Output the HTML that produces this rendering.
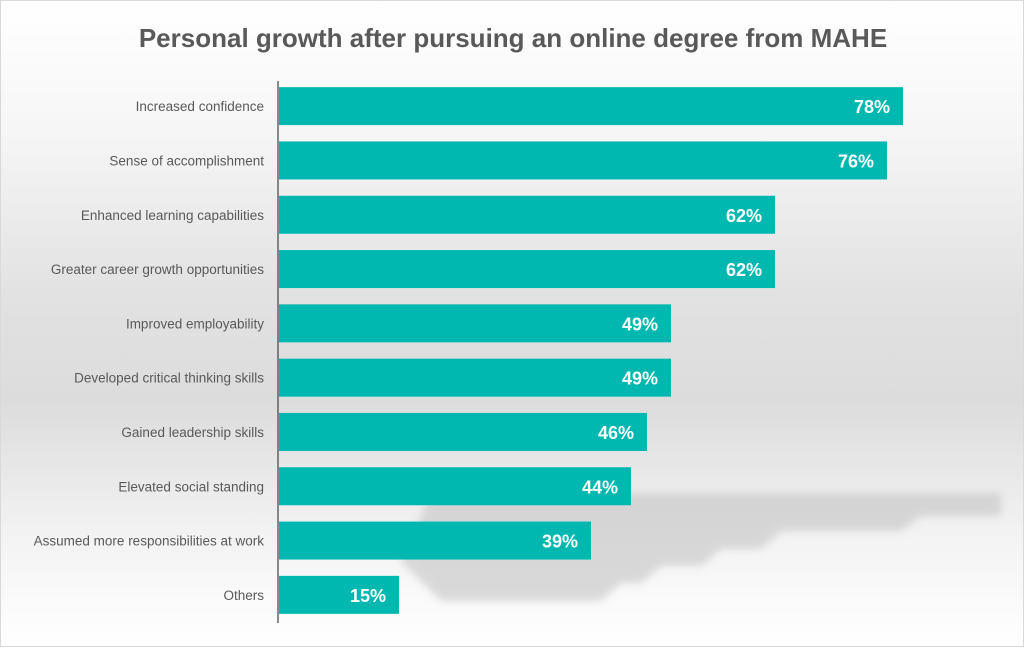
<!DOCTYPE html>
<html><head><meta charset="utf-8"><style>
html,body{margin:0;padding:0}
body{width:1024px;height:647px;overflow:hidden;font-family:"Liberation Sans",sans-serif}
#wrap{position:absolute;left:0;top:0;width:1022px;height:645px;border:1px solid #d9d9d9;
background:linear-gradient(to bottom,#ffffff 0%,#f6f6f6 20%,#e2e2e2 45%,#dcdcdc 62%,#f2f2f2 82%,#ffffff 100%)}
</style></head><body>
<div id="wrap">
<svg id="chart" width="1022" height="645" xmlns="http://www.w3.org/2000/svg">
<defs><filter id="bl" x="-5%" y="-20%" width="110%" height="140%"><feGaussianBlur stdDeviation="4"/></filter></defs>
<g filter="url(#bl)" fill="#c4c4c4" opacity="0.6">
<polygon points="430,492 1000,492 1000,515 920,515 900,530 780,530 760,548 720,548 700,565 660,565 640,582 620,582 600,600 440,600 400,560"/>
</g>
<text x="512" y="46" text-anchor="middle" font-size="26" font-weight="bold" fill="#595959">Personal growth after pursuing an online degree from MAHE</text>
<g id="bars"></g>
<line x1="277" y1="80" x2="277" y2="622" stroke="#404040" stroke-width="1.2"/>
</svg>
</div>
<script>
const categories=["Increased confidence","Sense of accomplishment","Enhanced learning capabilities","Greater career growth opportunities","Improved employability","Developed critical thinking skills","Gained leadership skills","Elevated social standing","Assumed more responsibilities at work","Others"];
const values=[78,76,62,62,49,49,46,44,39,15];
const valueLabels=["78%","76%","62%","62%","49%","49%","46%","44%","39%","15%"];
const NS="http://www.w3.org/2000/svg";
const x0=278,pxPer=8.0,top0=78,band=54.3,bh=38;
const xs=v=>x0+v*pxPer;
const yc=i=>top0+band*i+band/2;
const g=document.getElementById('bars');
categories.forEach((c,i)=>{
  const r=document.createElementNS(NS,'rect');
  r.setAttribute('x',x0);r.setAttribute('y',yc(i)-bh/2);
  r.setAttribute('width',xs(values[i])-x0);r.setAttribute('height',bh);
  r.setAttribute('fill','#00B8B0');
  
  
  g.appendChild(r);
  const t=document.createElementNS(NS,'text');
  t.setAttribute('x',263);t.setAttribute('y',yc(i)+5);
  t.setAttribute('text-anchor','end');t.setAttribute('font-size','13.5');t.setAttribute('fill','#595959');
  t.textContent=c;
  
  
  g.appendChild(t);
  const v=document.createElementNS(NS,'text');
  v.setAttribute('x',xs(values[i])-13);v.setAttribute('y',yc(i)+7);
  v.setAttribute('text-anchor','end');v.setAttribute('font-size','18');v.setAttribute('font-weight','bold');v.setAttribute('fill','#ffffff');
  v.textContent=valueLabels[i];
  
  
  g.appendChild(v);
});
</script>
</body></html>
